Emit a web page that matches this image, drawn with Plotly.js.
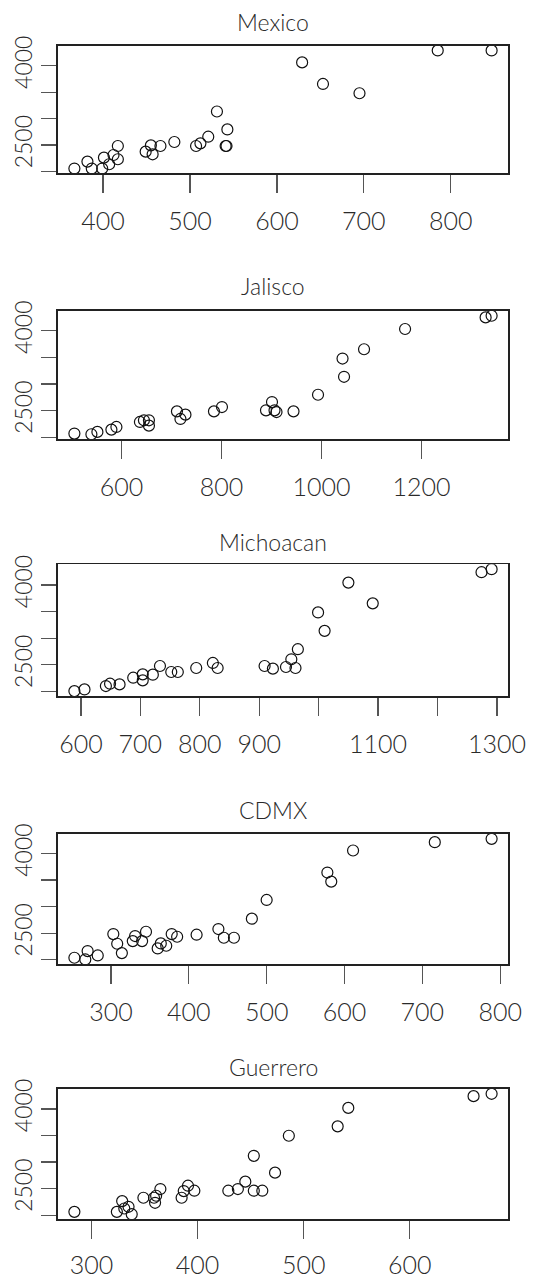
<!DOCTYPE html>
<html><head><meta charset="utf-8">
<script src="https://cdn.plot.ly/plotly-3.0.1.min.js"></script>
<style>html,body{margin:0;padding:0;background:#fff}#chart{width:553px;height:1279px}</style>
</head><body><div id="chart"></div>
<script>
const panelNames = ["Mexico", "Jalisco", "Michoacan", "CDMX", "Guerrero"];

const mexicoX = [367,382,387,399,401,407,412,417,417,449,455,457,466,482,507,512,521,531,541,542,543,629,653,695,785,847];
const mexicoY = [2056,2188,2056,2056,2263,2138,2313,2232,2483,2376,2495,2326,2483,2558,2483,2533,2658,3135,2483,2483,2796,4063,3655,3480,4289,4289];

const jaliscoX = [506,540,552,580,590,637,645,655,655,711,718,728,785,801,889,901,906,910,944,993,1042,1045,1085,1167,1328,1340];
const jaliscoY = [2069,2056,2100,2143,2193,2287,2318,2318,2218,2486,2343,2424,2486,2567,2505,2660,2505,2473,2486,2797,3477,3134,3651,4031,4249,4280];

const michoacanX = [589,606,642,649,665,688,704,704,721,733,752,763,794,822,830,909,923,945,954,961,965,999,1010,1050,1091,1274,1291];
const michoacanY = [2006,2038,2101,2145,2132,2258,2321,2208,2315,2478,2365,2365,2440,2535,2440,2478,2428,2459,2604,2440,2793,3484,3138,4044,3654,4239,4296];

const cdmxX = [253,267,270,283,303,308,314,328,331,340,345,360,364,371,378,385,410,438,445,458,481,500,578,583,611,716,789];
const cdmxY = [2038,2006,2164,2082,2484,2302,2126,2352,2447,2352,2528,2214,2308,2264,2484,2434,2472,2579,2415,2415,2774,3126,3642,3472,4057,4214,4277];

const guerreroX = [284,324,329,331,335,338,349,359,360,361,365,385,387,391,397,429,438,445,453,461,453,473,486,532,542,660,677];
const guerreroY = [2063,2063,2265,2126,2158,2019,2328,2328,2233,2366,2492,2328,2454,2555,2461,2461,2492,2631,2461,2461,3117,2801,3495,3672,4019,4240,4284];

const mexicoTicks = [400, 500, 600, 700, 800];
const mexicoTickText = ["400", "500", "600", "700", "800"];
const jaliscoTicks = [600, 800, 1000, 1200];
const jaliscoTickText = ["600", "800", "1000", "1200"];
const michoacanTicks = [600, 700, 800, 900, 1000, 1100, 1200, 1300];
const michoacanTickText = ["600", "700", "800", "900", "", "1100", "", "1300"];
const cdmxTicks = [300, 400, 500, 600, 700, 800];
const cdmxTickText = ["300", "400", "500", "600", "700", "800"];
const guerreroTicks = [300, 400, 500, 600];
const guerreroTickText = ["300", "400", "500", "600"];

const yTickVals = [2000, 2500, 3000, 3500, 4000];
const yTickText = ["", "2500", "", "", "4000"];

const xs = [mexicoX, jaliscoX, michoacanX, cdmxX, guerreroX];
const ys = [mexicoY, jaliscoY, michoacanY, cdmxY, guerreroY];
const xt = [mexicoTicks, jaliscoTicks, michoacanTicks, cdmxTicks, guerreroTicks];
const xtt = [mexicoTickText, jaliscoTickText, michoacanTickText, cdmxTickText, guerreroTickText];

const W = 553, H = 1279;
const boxLeft = 57.7, boxRight = 508.3;
const boxTops = [45.7, 311, 564.3, 834, 1089];
const boxBottoms = [173.3, 439, 696, 964.3, 1219];
const titleY = [21.7, 286, 541.7, 810, 1066.7];
const standoffs = [7, 7, 7, 7, 5];

function padRange(a) {
  const mn = Math.min(...a), mx = Math.max(...a), d = (mx - mn) * 0.04;
  return [mn - d, mx + d];
}

const FONT = "Lato, 'Open Sans', sans-serif";
const TXT = "#2a2a2a";
const traces = [];
const layout = {
  width: W, height: H,
  margin: {l: 0, r: 0, t: 0, b: 0},
  paper_bgcolor: "#fff", plot_bgcolor: "#fff",
  showlegend: false,
  font: {family: FONT, color: TXT, weight: 300},
  annotations: []
};

for (let i = 0; i < 5; i++) {
  const n = i + 1;
  const xa = "x" + (n === 1 ? "" : n), ya = "y" + (n === 1 ? "" : n);
  traces.push({
    x: xs[i], y: ys[i], xaxis: xa, yaxis: ya,
    type: "scatter", mode: "markers",
    marker: {symbol: "circle-open", size: 11, color: "#111", line: {width: 1.2, color: "#111"}},
    hoverinfo: "x+y"
  });
  const common = {
    showline: true, mirror: true, linecolor: "#222", linewidth: 1.6,
    ticks: "outside", tickcolor: "#555", tickwidth: 1.2,
    showgrid: false, zeroline: false
  };
  layout["xaxis" + (n === 1 ? "" : n)] = Object.assign({}, common, {
    domain: [boxLeft / W, boxRight / W], anchor: ya,
    range: padRange(xs[i]), tickmode: "array", tickvals: xt[i], ticktext: xtt[i],
    ticklen: 18, ticklabelstandoff: standoffs[i],
    tickfont: {size: 25, color: TXT, family: FONT, weight: 300}
  });
  layout["yaxis" + (n === 1 ? "" : n)] = Object.assign({}, common, {
    domain: [1 - boxBottoms[i] / H, 1 - boxTops[i] / H], anchor: xa,
    range: padRange(ys[i]), tickmode: "array", tickvals: yTickVals, ticktext: yTickText,
    ticklen: 15, tickangle: -90,
    tickfont: {size: 23, color: TXT, family: FONT, weight: 300}
  });
  layout.annotations.push({
    text: panelNames[i], xref: "paper", yref: "paper",
    x: 273 / W, y: 1 - titleY[i] / H, xanchor: "center", yanchor: "middle",
    showarrow: false, font: {size: 23, color: TXT, family: FONT, weight: 300}
  });
}

Plotly.newPlot("chart", traces, layout, {displayModeBar: false, staticPlot: true});
</script>
</body></html>
